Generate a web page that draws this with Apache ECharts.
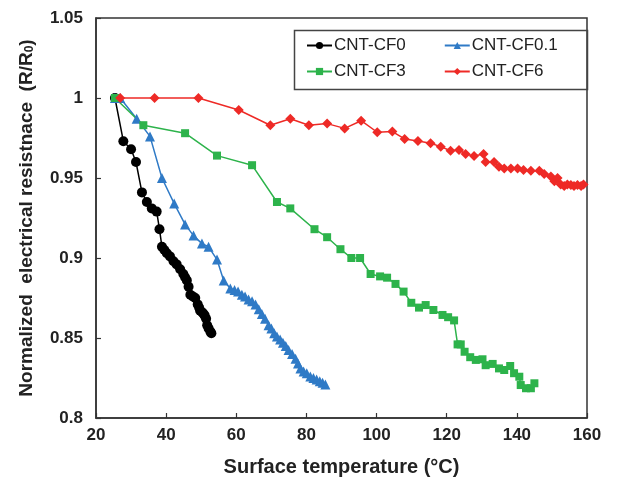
<!DOCTYPE html>
<html>
<head>
<meta charset="utf-8">
<script src="https://cdn.jsdelivr.net/npm/echarts@6/dist/echarts.min.js"></script>
<style>
  html, body { margin: 0; padding: 0; background: #fff; }
  #chart { width: 618px; height: 483px; }
</style>
</head>
<body>
<div id="chart"></div>
<script>
// Surface temperature (°C) vs normalized resistance R/R0 for each sample
const cf0 = [
  [25.4, 1.0], [27.8, 0.973], [30.0, 0.968], [31.4, 0.960], [33.1, 0.941], [34.5, 0.935],
  [35.9, 0.931], [37.3, 0.929], [38.1, 0.918], [38.8, 0.907], [39.5, 0.905], [40.2, 0.903],
  [41.1, 0.901], [42.1, 0.898], [43.0, 0.896], [44.0, 0.893], [44.9, 0.890], [45.4, 0.888],
  [45.9, 0.886], [46.4, 0.882], [46.9, 0.877], [47.6, 0.876], [48.3, 0.875], [49.0, 0.871],
  [49.4, 0.869], [49.7, 0.867], [50.3, 0.866], [50.7, 0.865], [51.0, 0.864], [51.4, 0.862],
  [51.7, 0.858], [52.1, 0.856], [52.6, 0.854], [52.9, 0.853]
];
const cf01 = [
  [25.4, 1.0], [26.9, 1.0], [31.6, 0.987], [35.4, 0.976], [38.8, 0.950], [42.3, 0.934],
  [45.4, 0.921], [47.8, 0.914], [50.2, 0.909], [52.1, 0.907], [54.5, 0.899], [56.4, 0.886],
  [58.3, 0.881], [59.5, 0.880], [60.5, 0.879], [61.6, 0.877], [62.5, 0.876], [63.5, 0.874],
  [64.5, 0.873], [65.5, 0.871], [66.4, 0.868], [67.3, 0.865], [68.2, 0.862], [69.2, 0.858],
  [70.0, 0.856], [70.8, 0.853], [71.6, 0.851], [72.5, 0.849], [73.3, 0.847], [74.1, 0.845],
  [74.9, 0.8425], [75.9, 0.840], [76.9, 0.837], [77.6, 0.834], [78.3, 0.831], [79.2, 0.829],
  [80.1, 0.828], [81.1, 0.826], [82.0, 0.825], [82.9, 0.824], [83.8, 0.823], [84.6, 0.822],
  [85.4, 0.821]
];
const cf3 = [
  [25.4, 1.0], [33.5, 0.983], [45.4, 0.978], [54.5, 0.964], [64.5, 0.958], [71.6, 0.935],
  [75.4, 0.931], [82.3, 0.918], [85.9, 0.913], [89.7, 0.9055], [92.8, 0.900], [95.3, 0.900],
  [98.3, 0.890], [101.0, 0.8885], [103.0, 0.8877], [105.4, 0.8838], [107.7, 0.879],
  [109.9, 0.872], [112.1, 0.869], [114.0, 0.8706], [116.2, 0.8675], [118.8, 0.8644],
  [120.4, 0.863], [122.1, 0.861], [123.1, 0.846], [124.0, 0.846], [125.1, 0.8414],
  [126.7, 0.838], [128.3, 0.8363], [130.2, 0.8367], [131.1, 0.833], [133.1, 0.8338],
  [134.9, 0.831], [136.4, 0.830], [138.1, 0.8325], [139.2, 0.828], [140.7, 0.8258],
  [141.1, 0.8206], [142.6, 0.8186], [144.0, 0.8186], [145.0, 0.8217]
];
const cf6 = [
  [26.9, 1.0], [36.7, 1.0], [49.2, 1.0], [60.7, 0.9925], [69.7, 0.983], [75.4, 0.987],
  [80.7, 0.983], [85.9, 0.984], [90.9, 0.981], [95.6, 0.9858], [100.2, 0.9786], [104.5, 0.979],
  [108.0, 0.9744], [111.8, 0.9731], [115.4, 0.9717], [118.3, 0.9696], [121.1, 0.967],
  [123.5, 0.9675], [125.4, 0.965], [127.8, 0.9638], [130.5, 0.965], [131.1, 0.960],
  [133.5, 0.960], [134.9, 0.957], [136.4, 0.956], [138.3, 0.956], [140.2, 0.956],
  [141.9, 0.955], [144.0, 0.9546], [146.4, 0.9546], [147.8, 0.9525], [149.7, 0.951],
  [150.7, 0.948], [151.6, 0.950], [152.5, 0.946], [153.5, 0.945], [154.4, 0.946],
  [155.4, 0.9456], [156.3, 0.945], [157.3, 0.9456], [158.3, 0.945], [159.0, 0.946]
];

const seriesNames = ['CNT-CF0', 'CNT-CF0.1', 'CNT-CF3', 'CNT-CF6'];
const xTicks = { min: 20, max: 160, step: 20 };
const yTicks = { min: 0.8, max: 1.05, step: 0.05 };

const FONT = 'Liberation Sans, Arial, Helvetica, sans-serif';
const frameColor = '#333';

function lineSeries(name, data, color, symbol, size) {
  return {
    name: name,
    type: 'line',
    data: data,
    symbol: symbol,
    symbolSize: size,
    lineStyle: { color: color, width: 1.5 },
    itemStyle: { color: color },
    emphasis: { disabled: true },
    animation: false
  };
}

const legendCommon = {
  itemWidth: 25,
  itemHeight: 9,
  itemGap: 38,
  textStyle: { fontFamily: FONT, fontSize: 17, color: '#222', padding: [0, 0, 0, -3] }
};

const chart = echarts.init(document.getElementById('chart'), null, { renderer: 'canvas' });
chart.setOption({
  backgroundColor: '#fff',
  animation: false,
  grid: {
    left: 96, right: 31, top: 18, bottom: 65,
    show: true, borderColor: frameColor, borderWidth: 1.5, backgroundColor: 'transparent'
  },
  legend: [
    Object.assign({ left: 301, top: 32, data: [seriesNames[0], seriesNames[1]] }, legendCommon),
    Object.assign({ left: 301, top: 58, data: [seriesNames[2], seriesNames[3]] }, legendCommon)
  ],
  graphic: [{
    type: 'rect',
    left: 292, top: 28,
    shape: { width: 293, height: 59 },
    style: { fill: 'none', stroke: '#444', lineWidth: 1.5 },
    z: 0
  }],
  xAxis: {
    type: 'value',
    min: xTicks.min, max: xTicks.max, interval: xTicks.step,
    name: 'Surface temperature (°C)',
    nameLocation: 'middle',
    nameGap: 39,
    nameTextStyle: { fontFamily: FONT, fontSize: 20, fontWeight: 'bold', color: '#222' },
    axisLine: { lineStyle: { color: frameColor, width: 1.5 } },
    axisTick: { inside: true, length: 5, lineStyle: { color: frameColor, width: 1.2 } },
    axisLabel: { fontFamily: FONT, fontSize: 17, fontWeight: 'bold', color: '#222', margin: 9 },
    splitLine: { show: false }
  },
  yAxis: {
    type: 'value',
    min: yTicks.min, max: yTicks.max, interval: yTicks.step,
    name: 'Normalized  electrical resistnace  (R/R{s|0})',
    nameLocation: 'middle',
    nameRotate: 90,
    nameGap: 60,
    nameTextStyle: {
      fontFamily: FONT, fontSize: 19, fontWeight: 'bold', color: '#222',
      rich: {
        s: { fontFamily: FONT, fontSize: 12, fontWeight: 'bold', color: '#222', verticalAlign: 'bottom', padding: [7, 0, 0, 0] }
      }
    },
    axisLine: { lineStyle: { color: frameColor, width: 1.5 } },
    axisTick: { inside: true, length: 5, lineStyle: { color: frameColor, width: 1.2 } },
    axisLabel: {
      fontFamily: FONT, fontSize: 17, fontWeight: 'bold', color: '#222', margin: 13,
      formatter: function (v) { return String(+v.toFixed(2)); }
    },
    splitLine: { show: false }
  },
  series: [
    lineSeries(seriesNames[0], cf0, '#000000', 'circle', 10),
    lineSeries(seriesNames[1], cf01, '#2f7ac6', 'triangle', 10),
    lineSeries(seriesNames[2], cf3, '#2db34b', 'rect', 8),
    lineSeries(seriesNames[3], cf6, '#ee2a26', 'diamond', 10)
  ]
});
</script>
</body>
</html>
